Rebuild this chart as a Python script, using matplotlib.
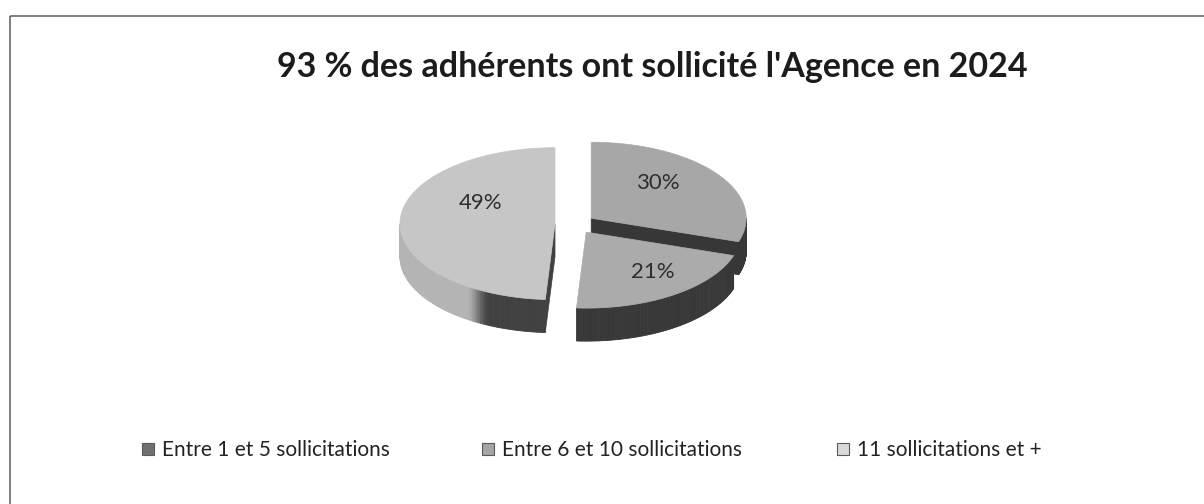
import numpy as np
import matplotlib.pyplot as plt
from matplotlib.patches import Polygon, Rectangle
import matplotlib.colors as mcolors

# data
categories = ["Entre 1 et 5 sollicitations", "Entre 6 et 10 sollicitations",
              "11 sollicitations et +"]
shares = [30, 21, 49]
pct_labels = ["30%", "21%", "49%"]
title = "93 % des adhérents ont sollicité l'Agence en 2024"

top_colors = ["#a7a7a7", "#ababab", "#c6c6c6"]
legend_colors = ["#707070", "#a5a5a5", "#d8d8d8"]

W, H = 1204, 504
fig = plt.figure(figsize=(W / 100, H / 100), dpi=100)
ax = fig.add_axes([0, 0, 1, 1])
ax.set_xlim(0, W)
ax.set_ylim(H, 0)
ax.axis("off")

# frame of the chart (cut by the scan on right / bottom)
ax.add_patch(Rectangle((10, 16), 1220, 520, fill=False, edgecolor="#6a6a6a", lw=1.2))

ax.text(652, 67, title, ha="center", va="center", fontsize=24.5,
        fontweight="bold", family="Lato", color="#1c1c1c")

# 3d pie geometry (pixels)
cx, cy, rx, ry, depth, explode = 575, 224, 155, 76, 33, 20
label_frac = 0.53
label_nudge = [(0, -12), (20, 7), (8, -19)]  # excel puts labels a bit off-centre


def smooth(t):
    t = np.clip(t, 0, 1)
    return t * t * (3 - 2 * t)


def shade(color, theta):
    f = 0.33 + 0.58 * smooth((-np.cos(theta) - 0.42) / 0.15)
    r, g, b = mcolors.to_rgb(color)
    return (r * f, g * f, b * f)


slices = []
start = 90.0
for i, s in enumerate(shares):
    a0 = np.radians(start)
    a1 = np.radians(start - s * 3.6)
    mid = 0.5 * (a0 + a1)
    dx = explode * np.cos(mid)
    dy = -explode * np.sin(mid) * ry / rx
    slices.append((i, a0, a1, mid, dx, dy))
    start -= s * 3.6


def rim(theta, dx, dy, z=0.0):
    return cx + dx + rx * np.cos(theta), cy + dy - ry * np.sin(theta) + z


# back slices first
for i, a0, a1, mid, dx, dy in sorted(slices, key=lambda t: t[5]):
    col = top_colors[i]
    c_top = (cx + dx, cy + dy)
    c_bot = (cx + dx, cy + dy + depth)

    # radial walls facing the viewer
    for ang, vis in ((a0, np.cos(a0) < -1e-6), (a1, np.cos(a1) > 1e-6)):
        if vis:
            p_top = rim(ang, dx, dy)
            p_bot = rim(ang, dx, dy, depth)
            ax.add_patch(Polygon([c_top, p_top, p_bot, c_bot], closed=True,
                                 facecolor=shade(col, 0.0), edgecolor=shade(col, 0.0), lw=0.5))

    # outer curved side (front half only)
    lo = max(a1, np.radians(-180))
    hi = min(a0, 0.0)
    if hi > lo:
        th = np.linspace(lo, hi, 80)
        for t0, t1 in zip(th[:-1], th[1:]):
            c = shade(col, 0.5 * (t0 + t1))
            ax.add_patch(Polygon([rim(t0, dx, dy), rim(t1, dx, dy),
                                  rim(t1, dx, dy, depth), rim(t0, dx, dy, depth)],
                                 closed=True, facecolor=c, edgecolor=c, lw=0.6))

    # top face
    th = np.linspace(a0, a1, 120)
    pts = [c_top] + [rim(t, dx, dy) for t in th]
    ax.add_patch(Polygon(pts, closed=True, facecolor=col, edgecolor=col, lw=0.5))

    lx = cx + dx + label_frac * rx * np.cos(mid) + label_nudge[i][0]
    ly = cy + dy - label_frac * ry * np.sin(mid) + label_nudge[i][1]
    ax.text(lx, ly, pct_labels[i], ha="center", va="center", fontsize=16,
            family="Lato", color="#2e2e2e")

# legend
leg_x = [162, 502, 857]
for x, lab, c in zip(leg_x, categories, legend_colors):
    ax.add_patch(Rectangle((x - 20, 443), 12, 12, facecolor=c, edgecolor="#5a5a5a", lw=0.8))
    ax.text(x, 450, lab, ha="left", va="center", fontsize=15,
            family="Lato", color="#222222")

fig.savefig("out.png", dpi=100)
